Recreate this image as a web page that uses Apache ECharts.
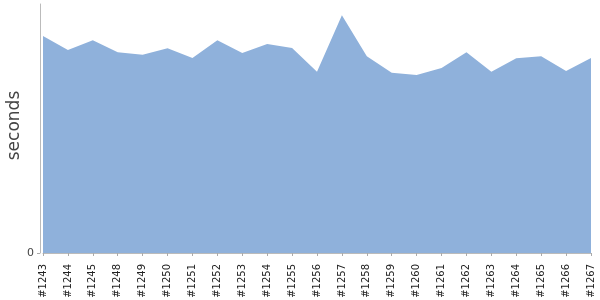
<!DOCTYPE html>
<html><head><meta charset="utf-8">
<script src="https://cdn.jsdelivr.net/npm/echarts@6/dist/echarts.min.js"></script>
<style>html,body{margin:0;padding:0;background:#fff}#c{width:600px;height:300px}</style>
</head><body><div id="c"></div>
<script>
var categories = ['#1243','#1244','#1245','#1248','#1249','#1250','#1251','#1252','#1253','#1254','#1255','#1256','#1257','#1258','#1259','#1260','#1261','#1262','#1263','#1264','#1265','#1266','#1267'];
var seconds = [217, 203, 212.7, 200.7, 198.3, 204.7, 195, 212.7, 200, 209, 205, 181.3, 237.7, 196.7, 180.3, 178, 185, 200.7, 181.3, 194.7, 196.7, 182, 195];
var yMax = 249;
var yTicks = [0];

var chart = echarts.init(document.getElementById('c'), null, {renderer:'canvas'});
chart.setOption({
  animation:false,
  grid:{left:43, right:9, top:4, bottom:47, outerBoundsMode:'none', containLabel:false},
  xAxis:{
    type:'category', data:categories, boundaryGap:false, offset:4,
    axisLine:{show:true, lineStyle:{color:'#bbb'}},
    axisTick:{show:true, length:3, alignWithLabel:true, interval:0, lineStyle:{color:'#aaa'}},
    axisLabel:{rotate:90, fontSize:10, color:'#222', fontFamily:'DejaVu Sans', margin:7, interval:0}
  },
  yAxis:{
    type:'value', min:0, max:yMax, offset:3,
    name:'seconds', nameLocation:'middle', nameGap:17, nameRotate:90, nameMoveOverlap:false,
    nameTextStyle:{fontSize:17, color:'#444', fontFamily:'DejaVu Sans', padding:[0,0,0,6]},
    axisLine:{show:true, lineStyle:{color:'#bbb'}},
    axisTick:{show:true, length:3, customValues:yTicks, lineStyle:{color:'#aaa'}},
    splitLine:{show:false},
    axisLabel:{fontSize:11, color:'#444', fontFamily:'DejaVu Sans', margin:6, customValues:yTicks}
  },
  series:[{
    type:'line', data:seconds, symbol:'none',
    lineStyle:{width:0},
    areaStyle:{color:'#8fb1db', opacity:1}
  }]
});
</script></body></html>
